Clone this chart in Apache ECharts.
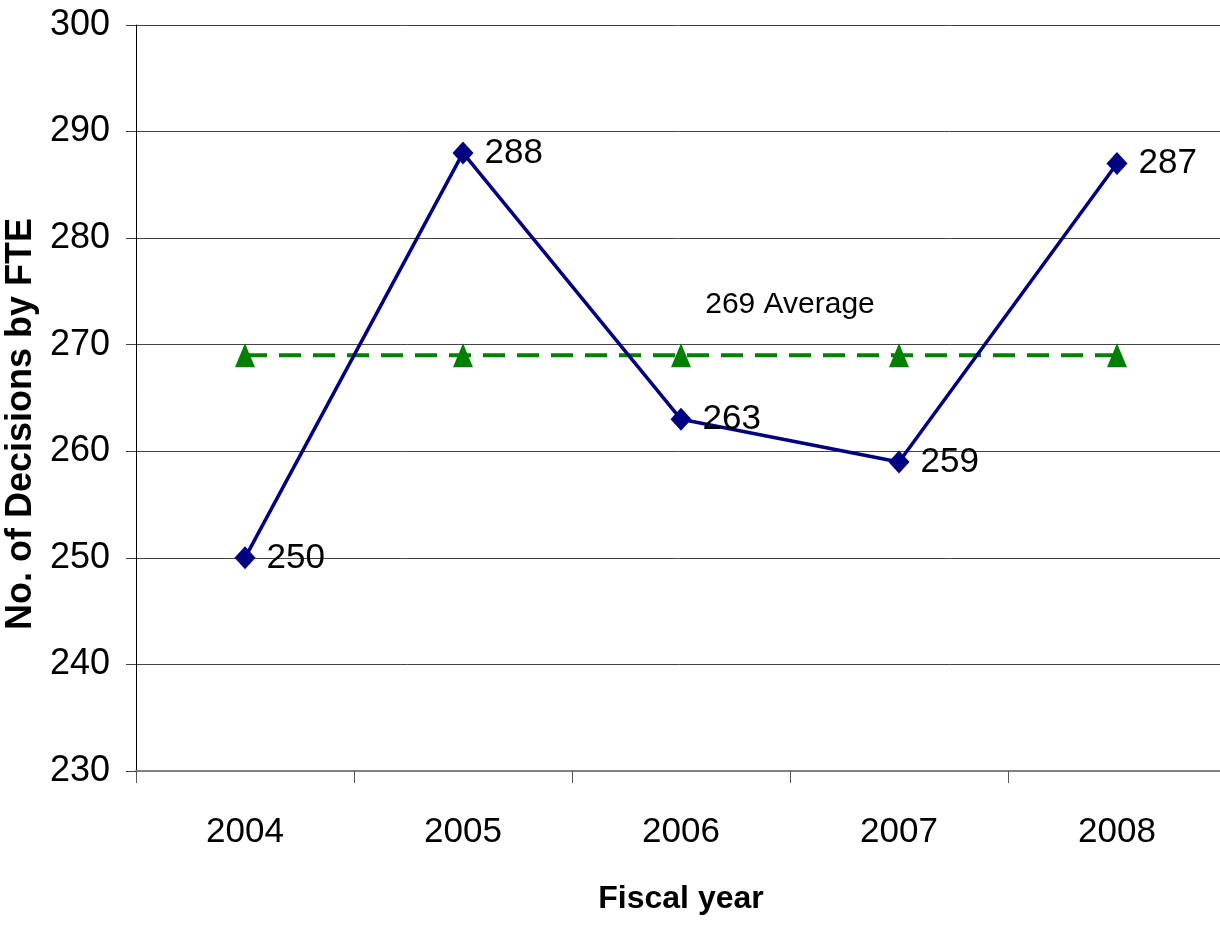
<!DOCTYPE html>
<html>
<head>
<meta charset="utf-8">
<script src="https://cdn.jsdelivr.net/npm/echarts@6/dist/echarts.min.js"></script>
<style>
  html, body { margin: 0; padding: 0; background: #fff; }
  #chart { width: 1220px; height: 927px; }
</style>
</head>
<body>
<div id="chart"></div>
<script>
// Fiscal years on the category axis
const years = ['2004', '2005', '2006', '2007', '2008'];
// Decisions per FTE for each fiscal year
const decisions = [250, 288, 263, 259, 287];
// Five-year average, drawn as a flat reference line
const average = [269, 269, 269, 269, 269];
// Value axis range and step
const yMin = 230;
const yMax = 300;
const yStep = 10;

const narrow = '"Liberation Sans Narrow", "Arial Narrow", "Liberation Sans", sans-serif';
const regular = '"Liberation Sans", Arial, sans-serif';

const chart = echarts.init(document.getElementById('chart'), null, { renderer: 'canvas' });

const averageData = average.map((v, i) => i === 2 ? {
  value: v,
  label: {
    show: true,
    position: 'inside',
    offset: [109, -51],
    formatter: (p) => p.value + ' Average',
    fontFamily: regular,
    fontSize: 30,
    color: '#000'
  }
} : v);

chart.setOption({
  animation: false,
  backgroundColor: '#ffffff',
  grid: {
    left: 136, top: 25, bottom: 156, right: -6,
    containLabel: false,
    outerBoundsMode: 'none'
  },
  xAxis: {
    type: 'category',
    data: years,
    boundaryGap: true,
    name: 'Fiscal year',
    nameLocation: 'middle',
    nameGap: 112,
    nameTextStyle: { fontFamily: regular, fontWeight: 'bold', fontSize: 32, color: '#000' },
    axisLine: { show: true, lineStyle: { color: '#808080', width: 2 } },
    axisTick: { show: true, alignWithLabel: false, length: 12, lineStyle: { color: '#555', width: 1 } },
    axisLabel: { fontFamily: narrow, fontSize: 35, color: '#000', margin: 44 },
    splitLine: { show: false }
  },
  yAxis: {
    type: 'value',
    min: yMin,
    max: yMax,
    interval: yStep,
    name: 'No. of Decisions by FTE',
    nameLocation: 'middle',
    nameGap: 81,
    nameRotate: 90,
    nameTextStyle: {
      fontFamily: regular, fontWeight: 'bold', fontSize: 36, color: '#000',
      padding: [0, 52, 0, 0]
    },
    axisLine: { show: true, lineStyle: { color: '#000', width: 1 } },
    axisTick: { show: true, length: 10, lineStyle: { color: '#444', width: 1 } },
    axisLabel: { fontFamily: narrow, fontSize: 36, color: '#000', margin: 26 },
    splitLine: { show: true, lineStyle: { color: '#444', width: 1 } }
  },
  series: [
    {
      name: 'Average',
      type: 'line',
      data: averageData,
      symbol: 'triangle',
      symbolSize: [20, 24],
      itemStyle: { color: '#008000' },
      lineStyle: { color: '#008000', width: 4, type: [22, 12] },
      label: { show: false },
      z: 2
    },
    {
      name: 'Decisions by FTE',
      type: 'line',
      data: decisions,
      symbol: 'diamond',
      symbolSize: [21, 23],
      itemStyle: { color: '#000080' },
      lineStyle: { color: '#000080', width: 3.5 },
      label: {
        show: true,
        position: 'right',
        distance: 11,
        fontFamily: narrow,
        fontSize: 35,
        color: '#000'
      },
      z: 3
    }
  ]
});
</script>
</body>
</html>
